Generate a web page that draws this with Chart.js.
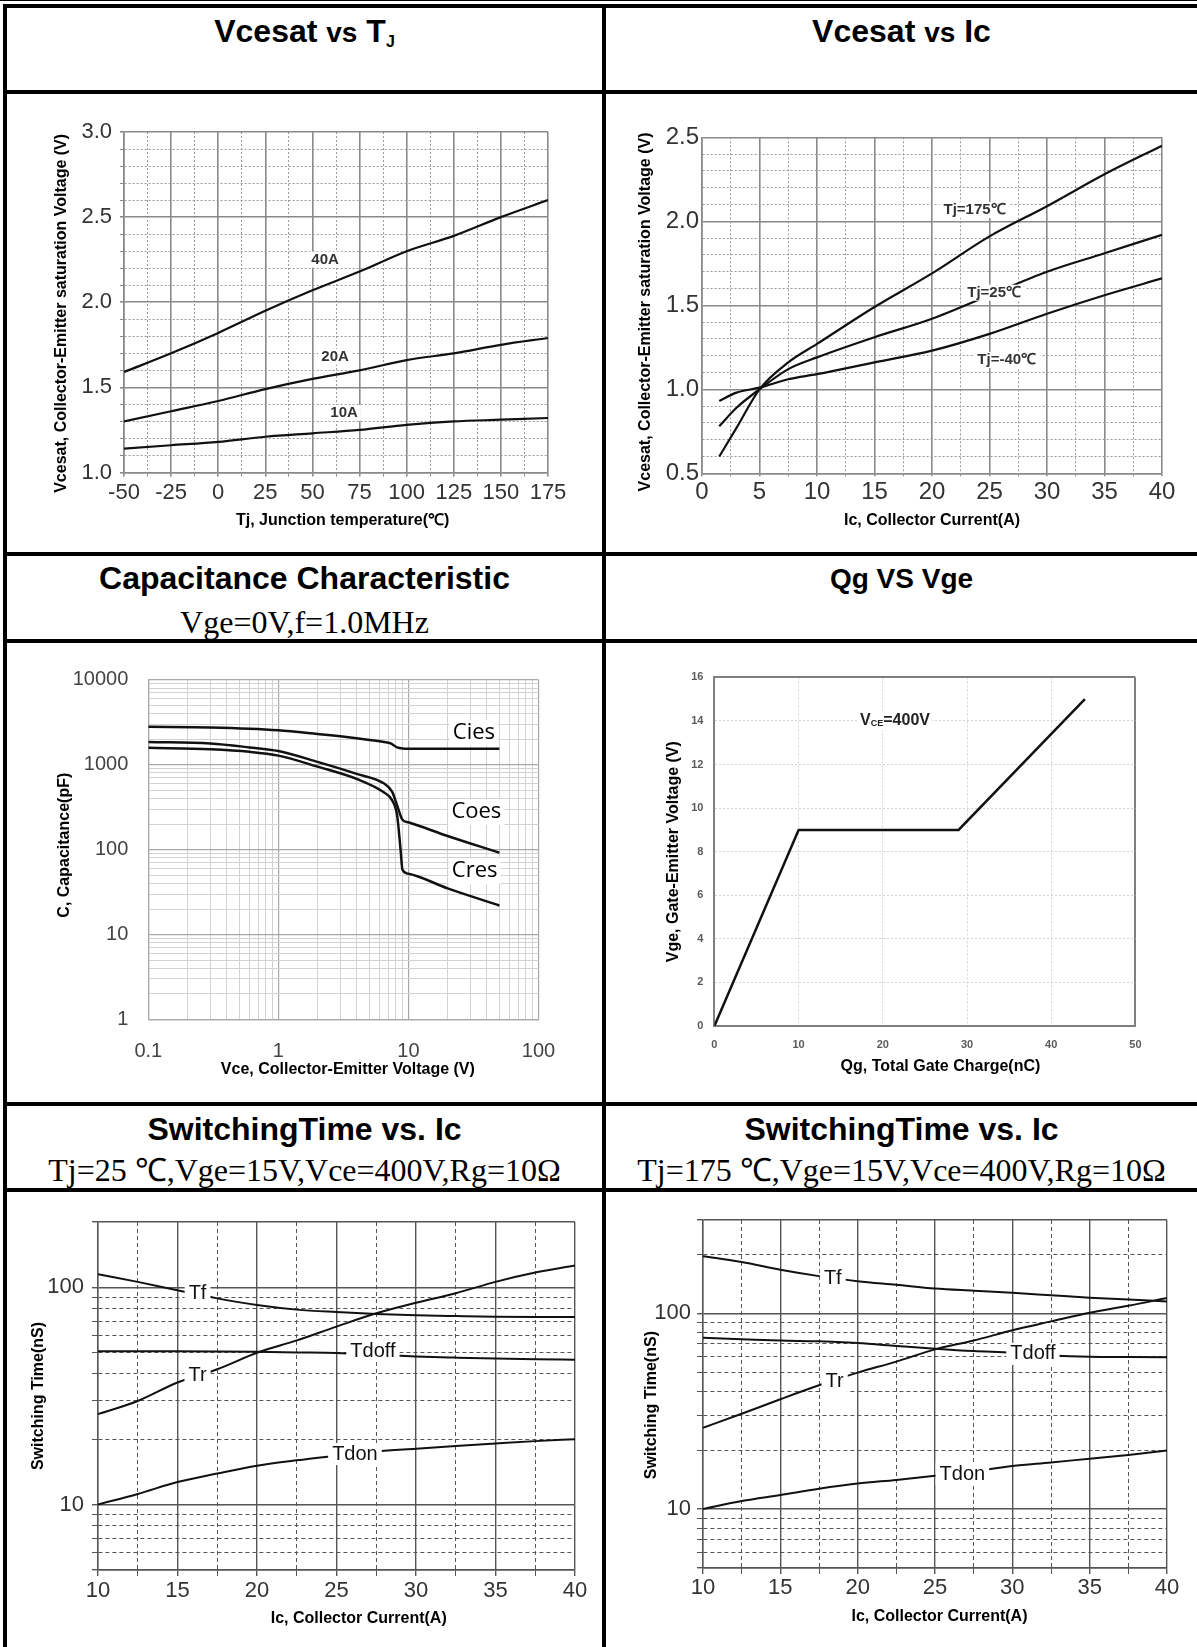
<!DOCTYPE html>
<html lang="en">
<head>
<meta charset="UTF-8">
<title>IGBT characteristic curves</title>
<script src="https://cdn.jsdelivr.net/npm/chart.js"></script>
<style>
  body { margin: 0; background: #fff; width: 1197px; height: 1647px; position: relative; overflow: hidden;
         font-family: "Liberation Sans", Arial, sans-serif; }
  .ln { position: absolute; background: #000; }
  .ttl { position: absolute; text-align: center; font-weight: bold; white-space: nowrap; }
  .sub { position: absolute; text-align: center; white-space: nowrap;
         font-family: "Liberation Serif", "Times New Roman", serif; }
  canvas { position: absolute; }
</style>
</head>
<body>

<!-- table frame -->
<div class="ln" style="left:0;top:0;width:1197px;height:1px"></div>
<div class="ln" style="left:3px;top:4px;width:1194px;height:4px"></div>
<div class="ln" style="left:3px;top:4px;width:4px;height:1643px"></div>
<div class="ln" style="left:602px;top:4px;width:4px;height:1643px"></div>
<div class="ln" style="left:3px;top:90px;width:1194px;height:4px"></div>
<div class="ln" style="left:3px;top:552px;width:1194px;height:4px"></div>
<div class="ln" style="left:3px;top:639px;width:1194px;height:4px"></div>
<div class="ln" style="left:3px;top:1102px;width:1194px;height:4px"></div>
<div class="ln" style="left:3px;top:1188px;width:1194px;height:4px"></div>

<!-- titles -->
<div class="ttl" style="left:7px;width:595px;top:12px;font-size:32px;line-height:38px">Vcesat <span style="font-size:28px">vs</span> T<span style="font-size:16px;position:relative;top:5px">J</span></div>
<div class="ttl" style="left:606px;width:591px;top:12px;font-size:32px;line-height:38px">Vcesat <span style="font-size:28px">vs</span> Ic</div>

<div class="ttl" style="left:7px;width:595px;top:560px;font-size:32px;line-height:36px">Capacitance Characteristic</div>
<div class="sub" style="left:7px;width:595px;top:604px;font-size:32px;line-height:36px">Vge=0V,f=1.0MHz</div>
<div class="ttl" style="left:606px;width:591px;top:561px;font-size:28px;line-height:36px">Qg VS Vge</div>

<div class="ttl" style="left:7px;width:595px;top:1111px;font-size:32px;line-height:36px">SwitchingTime vs. Ic</div>
<div class="sub" style="left:7px;width:595px;top:1152px;font-size:32px;line-height:36px">Tj=25 ℃,Vge=15V,Vce=400V,Rg=10Ω</div>
<div class="ttl" style="left:606px;width:591px;top:1111px;font-size:32px;line-height:36px">SwitchingTime vs. Ic</div>
<div class="sub" style="left:606px;width:591px;top:1152px;font-size:32px;line-height:36px">Tj=175 ℃,Vge=15V,Vce=400V,Rg=10Ω</div>

<canvas id="c1"></canvas>
<canvas id="c2"></canvas>
<canvas id="c3"></canvas>
<canvas id="c4"></canvas>
<canvas id="c5"></canvas>
<canvas id="c6"></canvas>

<script>
// ---------- data ----------

// Vcesat vs Tj
const TJ = [-50, -25, 0, 25, 50, 75, 100, 125, 150, 175];
const VCE_40A = [1.59, 1.70, 1.82, 1.95, 2.07, 2.18, 2.30, 2.39, 2.50, 2.60];
const VCE_20A = [1.30, 1.36, 1.42, 1.49, 1.55, 1.60, 1.66, 1.70, 1.75, 1.79];
const VCE_10A = [1.14, 1.16, 1.18, 1.21, 1.23, 1.25, 1.28, 1.30, 1.31, 1.32];

// Vcesat vs Ic
const IC_SAT = [1.5, 3, 5, 7.5, 10, 15, 20, 25, 30, 35, 40];
const VCE_TJ175 = [0.60, 0.77, 1.00, 1.16, 1.27, 1.49, 1.69, 1.91, 2.09, 2.28, 2.45];
const VCE_TJ25 = [0.78, 0.89, 1.00, 1.12, 1.19, 1.31, 1.42, 1.56, 1.70, 1.81, 1.92];
const VCE_TJM40 = [0.93, 0.98, 1.01, 1.06, 1.09, 1.16, 1.23, 1.33, 1.45, 1.56, 1.66];

// capacitance
const VCE_CIES = [0.1, 0.3, 1, 2, 4, 6.5, 7.3, 8.2, 9, 10, 20, 50];
const CIES = [2800, 2750, 2550, 2300, 2050, 1850, 1780, 1600, 1550, 1540, 1540, 1540];
const VCE_COES = [0.1, 0.3, 0.6, 1, 2, 4, 6.5, 7.5, 8.2, 9, 10, 20, 50];
const COES = [1850, 1780, 1600, 1450, 1080, 780, 600, 480, 330, 225, 210, 145, 92];
const VCE_CRES = [0.1, 0.3, 0.6, 1, 2, 4, 6.5, 7.5, 8.2, 8.7, 9, 10, 20, 50];
const CRES = [1580, 1520, 1420, 1280, 950, 680, 470, 380, 250, 100, 58, 52, 35, 22];

// gate charge
const QG = [0, 10, 29, 44];
const VGE = [0, 9, 9, 15];

// switching times
const IC_SW = [10, 12.5, 15, 17.5, 20, 22.5, 25, 27.5, 30, 32.5, 35, 37.5, 40];
const TF_25 = [115, 106, 97, 89, 83, 79, 77, 75.5, 74.5, 73.8, 73.2, 73, 73];
const TR_25 = [26.1, 30, 36.5, 42, 50, 57, 66, 76, 85, 94, 106, 117, 126];
const TDOFF_25 = [50.8, 50.8, 50.8, 50.7, 50.5, 50.2, 49.9, 49, 48.1, 47.5, 47, 46.7, 46.4];
const TDON_25 = [10, 11.2, 12.7, 13.9, 15.1, 16, 16.8, 17.6, 18.1, 18.6, 19.1, 19.6, 20];
const TF_175 = [196, 183, 167, 155, 146, 140, 134, 130.6, 127.4, 123.8, 120.3, 117.8, 115];
const TR_175 = [26, 30.7, 36.4, 42.9, 49.8, 56.7, 65.5, 72.6, 82, 91, 100.8, 109.4, 119.8];
const TDOFF_175 = [75, 73.8, 72.6, 72, 70.5, 68.2, 66, 64.2, 63, 61, 60, 59.8, 59.6];
const TDON_175 = [10, 11, 11.8, 12.7, 13.5, 14.1, 14.8, 15.6, 16.6, 17.3, 18.1, 18.9, 19.9];

// tick labels
const TJ_LABELS = [-50, -25, 0, 25, 50, 75, 100, 125, 150, 175];
const VSAT_LABELS = [1.0, 1.5, 2.0, 2.5, 3.0];
const IC_LABELS = [0, 5, 10, 15, 20, 25, 30, 35, 40];
const VSAT2_LABELS = [0.5, 1.0, 1.5, 2.0, 2.5];
const QG_LABELS = [0, 10, 20, 30, 40, 50];
const VGE_LABELS = [0, 2, 4, 6, 8, 10, 12, 14, 16];
const ICSW_LABELS = [10, 15, 20, 25, 30, 35, 40];
const TIME_LABELS = [10, 100];

// ---------- helpers ----------
Chart.defaults.font.family = '"Liberation Sans", Arial, sans-serif';
Chart.defaults.animation = false;

const pts = (xs, ys) => xs.map((x, i) => ({x: x, y: ys[i]}));
const r6 = v => Math.round(v * 1e6) / 1e6;

// split each label step into n parts for the minor grid
function subdivide(labels, n) {
  const out = [];
  for (let i = 0; i < labels.length - 1; i++)
    for (let k = 0; k < n; k++) out.push(r6(labels[i] + (labels[i + 1] - labels[i]) * k / n));
  out.push(labels[labels.length - 1]);
  return out;
}
// 1..9 per decade
function logTicks(from, to, extra) {
  const out = [];
  for (let e = from; e < to; e++)
    for (let k = 1; k <= 9; k++) out.push(r6(k * Math.pow(10, e)));
  out.push(r6(Math.pow(10, to)));
  return (extra || []).concat(out);
}

// canvas + plot area placement in page pixels
function place(id, box, area, yTitleX, xTitleY) {
  const [cx, cy, cw, ch] = box;
  const lh = 16 * 1.2;
  const cv = document.getElementById(id);
  cv.width = cw; cv.height = ch;
  cv.style.left = cx + 'px'; cv.style.top = cy + 'px';
  const pad = {
    left: yTitleX - cx - lh / 2,
    top: area.T - cy,
    right: cx + cw - area.R,
    bottom: cy + ch - xTitleY - lh / 2
  };
  return {cv: cv, pad: pad, yW: area.L - cx - pad.left, xH: (ch - pad.bottom) - (area.B - cy)};
}

function axis(o) {
  const isMaj = c => c.tick ? o.major(c.tick.value) : true;
  return {
    type: o.type || 'linear', min: o.min, max: o.max,
    afterBuildTicks: s => { s.ticks = o.ticks.map(v => ({value: v})); },
    afterFit: s => { if (o.w != null) s.width = o.w; if (o.h != null) s.height = o.h; },
    ticks: {
      autoSkip: false, maxRotation: 0, minRotation: 0, padding: o.pad,
      color: o.tickColor || '#333', font: {size: o.fs, weight: o.fw || 'normal'},
      callback: o.label
    },
    grid: {
      color: c => isMaj(c) ? o.maj.color : o.mnr.color,
      lineWidth: c => isMaj(c) ? o.maj.width : o.mnr.width,
      borderDash: c => isMaj(c) ? [] : o.mnr.dash,
      drawTicks: o.tl > 0, tickLength: o.tl || 0, tickColor: o.maj.color
    },
    border: {
      display: true, color: o.edge.color, width: o.edge.width,
      dash: c => (c.tick && !o.major(c.tick.value)) ? o.mnr.dash : []
    },
    title: {display: true, text: o.title, color: '#000', font: {size: 16, weight: 'bold'}, padding: 0}
  };
}

function labelPlugin(items, font, color, padX, boxH) {
  return {
    id: 'curveLabels',
    afterDatasetsDraw(chart) {
      const ctx = chart.ctx, xs = chart.scales.x, ys = chart.scales.y;
      items.forEach(it => {
        const px = xs.getPixelForValue(it.x), py = ys.getPixelForValue(it.y);
        const parts = it.parts || [{text: it.text, font: font}];
        ctx.save();
        const widths = parts.map(p => { ctx.font = p.font; return ctx.measureText(p.text).width; });
        const w = widths.reduce((a, b) => a + b, 0);
        ctx.fillStyle = '#fff';
        ctx.fillRect(px - w / 2 - padX, py - boxH / 2, w + 2 * padX, boxH);
        ctx.fillStyle = color;
        ctx.textBaseline = 'middle';
        ctx.textAlign = 'left';
        let x = px - w / 2;
        parts.forEach((p, i) => { ctx.font = p.font; ctx.fillText(p.text, x, py + (p.dy || 0)); x += widths[i]; });
        ctx.restore();
      });
    }
  };
}

function line(data, width) {
  return {data: data, borderColor: '#111', borderWidth: width, pointRadius: 0,
          fill: false, cubicInterpolationMode: 'monotone'};
}

function make(p, datasets, scales, plugin) {
  return new Chart(p.cv, {
    type: 'line',
    data: {datasets: datasets},
    options: {
      responsive: false, devicePixelRatio: 1, animation: false,
      layout: {padding: p.pad},
      plugins: {legend: {display: false}, tooltip: {enabled: false}},
      scales: scales
    },
    plugins: [plugin]
  });
}

const GRAY_MAJ = {color: '#8a8a8a', width: 1.6};
const GRAY_DOT = {color: '#9a9a9a', width: 1, dash: [2, 2]};
const GRAY_EDGE = {color: '#8a8a8a', width: 1.6};

// ---------- 1: Vcesat vs Tj ----------
const p1 = place('c1', [7, 94, 595, 458], {L: 124, R: 548, T: 132, B: 472.5}, 62, 520.7);
make(p1, [
  line(pts(TJ, VCE_40A), 2.2), line(pts(TJ, VCE_20A), 2.2), line(pts(TJ, VCE_10A), 2.2)
], {
  x: axis({min: -50, max: 175, ticks: subdivide(TJ_LABELS, 2), major: v => v % 25 === 0,
    label: v => v % 25 === 0 ? String(v) : '', h: p1.xH, pad: 3, tl: 4, fs: 22,
    maj: GRAY_MAJ, mnr: GRAY_DOT, edge: GRAY_EDGE, title: '   Tj, Junction temperature(℃)'}),
  y: axis({min: 1, max: 3, ticks: subdivide(VSAT_LABELS, 5), major: v => Math.round(v * 10) % 5 === 0,
    label: v => Math.round(v * 10) % 5 === 0 ? v.toFixed(1) : '', w: p1.yW, pad: 8, tl: 4, fs: 22,
    maj: GRAY_MAJ, mnr: GRAY_DOT, edge: GRAY_EDGE,
    title: 'Vcesat, Collector-Emitter saturation Voltage (V)     '})
}, labelPlugin([
  {text: '40A', x: 56.7, y: 2.25}, {text: '20A', x: 62, y: 1.68}, {text: '10A', x: 66.8, y: 1.35}
], 'bold 15px "Liberation Sans", Arial, sans-serif', '#333', 3, 16));

// ---------- 2: Vcesat vs Ic ----------
const p2 = place('c2', [606, 94, 591, 458], {L: 702, R: 1162, T: 137.3, B: 473.3}, 645.6, 520.7);
make(p2, [
  line(pts(IC_SAT, VCE_TJ175), 2.2), line(pts(IC_SAT, VCE_TJ25), 2.2), line(pts(IC_SAT, VCE_TJM40), 2.2)
], {
  x: axis({min: 0, max: 40, ticks: subdivide(IC_LABELS, 2), major: v => v % 5 === 0,
    label: v => v % 5 === 0 ? String(v) : '', h: p2.xH, pad: 2, tl: 3, fs: 24,
    maj: GRAY_MAJ, mnr: GRAY_DOT, edge: GRAY_EDGE, title: 'Ic, Collector Current(A)'}),
  y: axis({min: 0.5, max: 2.5, ticks: subdivide(VSAT2_LABELS, 5), major: v => Math.round(v * 10) % 5 === 0,
    label: v => Math.round(v * 10) % 5 === 0 ? v.toFixed(1) : '', w: p2.yW, pad: 3, tl: 0, fs: 24,
    maj: GRAY_MAJ, mnr: GRAY_DOT, edge: GRAY_EDGE,
    title: 'Vcesat, Collector-Emitter saturation Voltage (V)   '})
}, labelPlugin([
  {text: 'Tj=175℃', x: 23.7, y: 2.067}, {text: 'Tj=25℃', x: 25.4, y: 1.575}, {text: 'Tj=-40℃', x: 26.5, y: 1.174}
], 'bold 15px "Liberation Sans", Arial, sans-serif', '#333', 4, 16));

// ---------- 3: capacitance ----------
const isDecade = v => { const l = Math.log10(v); return Math.abs(l - Math.round(l)) < 1e-6; };
const p3 = place('c3', [7, 643, 595, 459], {L: 148.3, R: 538.5, T: 679.8, B: 1019.5}, 65, 1070);
make(p3, [
  line(pts(VCE_CIES, CIES), 2.5), line(pts(VCE_COES, COES), 2.5), line(pts(VCE_CRES, CRES), 2.5)
], {
  x: axis({type: 'logarithmic', min: 0.1, max: 100, ticks: logTicks(-1, 2), major: isDecade,
    label: v => isDecade(v) ? String(v) : '', h: p3.xH, pad: 20, tl: 0, fs: 20, tickColor: '#444',
    maj: {color: '#a8a8a8', width: 1.2}, mnr: {color: '#d2d2d2', width: 1, dash: []},
    edge: {color: '#a8a8a8', width: 1.2}, title: '  Vce, Collector-Emitter Voltage (V)'}),
  y: axis({type: 'logarithmic', min: 1, max: 10000, ticks: logTicks(0, 4), major: isDecade,
    label: v => isDecade(v) ? String(v) : '', w: p3.yW, pad: 20, tl: 0, fs: 20, tickColor: '#444',
    maj: {color: '#a8a8a8', width: 1.2}, mnr: {color: '#d2d2d2', width: 1, dash: []},
    edge: {color: '#a8a8a8', width: 1.2}, title: '  C, Capacitance(pF)'})
}, labelPlugin([
  {text: 'Cies', x: 31.9, y: 2360}, {text: 'Coes', x: 33.3, y: 277}, {text: 'Cres', x: 32.3, y: 56}
], '22px "Open Sans", "Noto Sans", sans-serif', '#000', 3, 26));

// ---------- 4: gate charge ----------
const p4 = place('c4', [606, 643, 591, 459], {L: 714.4, R: 1135.4, T: 677.4, B: 1026}, 674, 1066.5);
const QG_BOX = {color: '#7f7f7f', width: 2};
const QG_DOT = {color: '#d4d4d4', width: 1, dash: [2, 2]};
make(p4, [
  {data: pts(QG, VGE), borderColor: '#111', borderWidth: 2.5, pointRadius: 0, fill: false, tension: 0}
], {
  x: axis({min: 0, max: 50, ticks: QG_LABELS, major: v => v === 0 || v === 50,
    label: v => String(v), h: p4.xH, pad: 12, tl: 0, fs: 11, fw: 'bold', tickColor: '#5a5a5a',
    maj: QG_BOX, mnr: QG_DOT, edge: QG_BOX, title: '       Qg, Total Gate Charge(nC)'}),
  y: axis({min: 0, max: 16, ticks: VGE_LABELS, major: v => v === 0 || v === 16,
    label: v => String(v), w: p4.yW, pad: 11, tl: 0, fs: 11, fw: 'bold', tickColor: '#5a5a5a',
    maj: QG_BOX, mnr: QG_DOT, edge: QG_BOX, title: 'Vge, Gate-Emitter Voltage (V)'})
}, labelPlugin([
  {x: 21.45, y: 14.0, parts: [
    {text: 'V', font: 'bold 16px "Liberation Sans", Arial, sans-serif'},
    {text: 'CE', font: 'bold 9px "Liberation Sans", Arial, sans-serif', dy: 3},
    {text: '=400V', font: 'bold 16px "Liberation Sans", Arial, sans-serif'}]}
], 'bold 16px "Liberation Sans", Arial, sans-serif', '#222', 2, 18));

// ---------- 5 / 6: switching times ----------
const SW_MAJ = {color: '#555', width: 1.4};
const SW_DASH = {color: '#555', width: 1, dash: [4, 3]};

function swChart(id, box, area, yTitleX, xTitleY, yMax, yPad, xPad, sets, labels, yTitle, xTitle) {
  const p = place(id, box, area, yTitleX, xTitleY);
  const yT = logTicks(1, 2, [5, 6, 7, 8, 9]).concat(yMax === 300 ? [200, 300] : [200]);
  make(p, sets.map(s => line(pts(IC_SW, s), 2)), {
    x: axis({min: 10, max: 40, ticks: subdivide(ICSW_LABELS, 2), major: v => v % 5 === 0,
      label: v => v % 5 === 0 ? String(v) : '', h: p.xH, pad: xPad, tl: 6, fs: 22,
      maj: SW_MAJ, mnr: SW_DASH, edge: SW_MAJ, title: xTitle}),
    y: axis({type: 'logarithmic', min: 5, max: yMax, ticks: yT,
      major: v => v === 5 || v === 10 || v === 100 || v === yMax,
      label: v => TIME_LABELS.indexOf(v) >= 0 ? String(v) : '', w: p.yW, pad: yPad, tl: 6, fs: 22,
      maj: SW_MAJ, mnr: SW_DASH, edge: SW_MAJ, title: yTitle})
  }, labelPlugin(labels, '20px "Liberation Sans", Arial, sans-serif', '#111', 4, 22));
}

swChart('c5', [7, 1192, 595, 455], {L: 98, R: 575, T: 1222, B: 1570}, 38.5, 1619, 200, 8, 2,
  [TF_25, TR_25, TDOFF_25, TDON_25],
  [{text: 'Tf', x: 16.26, y: 94.2}, {text: 'Tr', x: 16.26, y: 39.5},
   {text: 'Tdoff', x: 27.29, y: 50.9}, {text: 'Tdon', x: 26.16, y: 17.1}],
  'Switching Time(nS)', '          Ic, Collector Current(A)');

swChart('c6', [606, 1192, 591, 455], {L: 703, R: 1167, T: 1220, B: 1568}, 651.3, 1617, 300, 6, 1,
  [TF_175, TR_175, TDOFF_175, TDON_175],
  [{text: 'Tf', x: 18.39, y: 150}, {text: 'Tr', x: 18.51, y: 44.9},
   {text: 'Tdoff', x: 31.33, y: 62.1}, {text: 'Tdon', x: 26.77, y: 15.1}],
  'Switching Time(nS)     ', '  Ic, Collector Current(A)');
</script>
</body>
</html>
